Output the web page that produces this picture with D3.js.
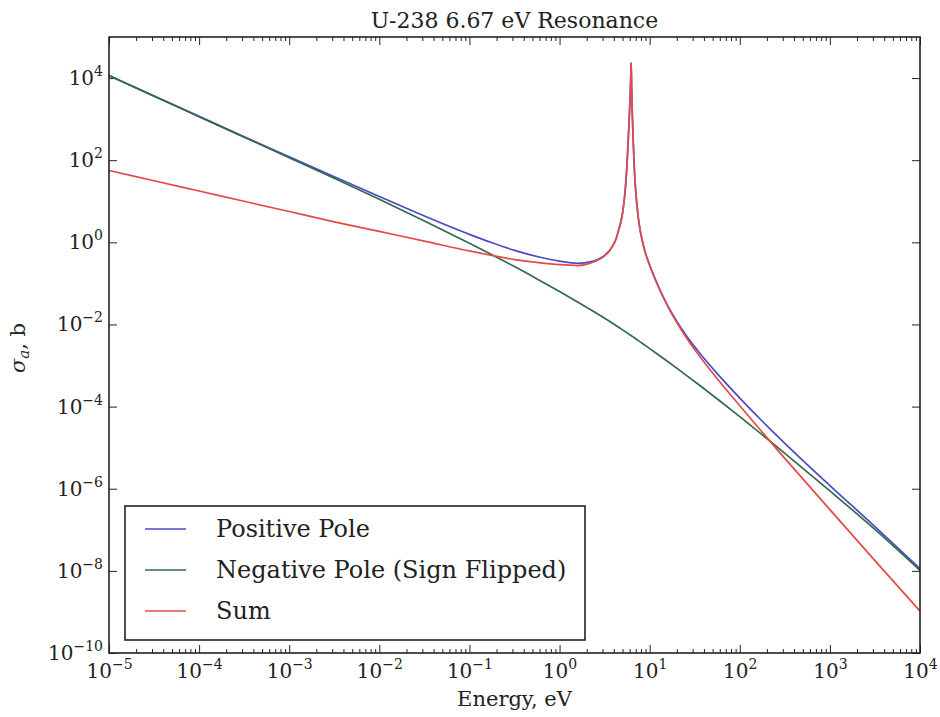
<!DOCTYPE html>
<html>
<head>
<meta charset="utf-8">
<script src="https://cdn.jsdelivr.net/npm/d3@7"></script>
<style>
  html, body { margin: 0; padding: 0; background: #fff; }
  svg { display: block; }
  text { font-family: "DejaVu Serif", "Liberation Serif", serif; fill: #222; }
</style>
</head>
<body>
<svg id="chart" width="940" height="717"></svg>
<script>
// ---- Data ----
const energy = [1e-5, 3.162e-5, 1e-4, 3.162e-4, 1e-3, 3.162e-3, 0.01, 0.03162, 0.1, 0.1778, 0.3162, 0.5623,
  1, 1.585, 2.239, 3.162, 3.548, 3.981, 4.266, 4.467, 4.732, 5.012, 5.370, 5.623, 5.888, 6.095, 6.166,
  6.237, 6.310, 6.383, 6.531, 6.761, 6.998, 7.244, 7.499, 7.762, 8.318, 8.913, 10, 12.59, 15.85, 19.95,
  25.12, 35.48, 60.26, 100, 204.2, 316.2, 1000, 3162, 1e4];

const positivePole = [11538, 3663, 1166, 373.1, 120.4, 39.47, 13.06, 4.383, 1.561, 0.9741, 0.6372, 0.4524,
  0.3482, 0.3076, 0.3388, 0.4819, 0.6147, 0.9016, 1.268, 1.787, 2.826, 5.255, 19.96, 89.14, 707.9, 4467, 10000,
  23440, 5623, 1995, 398.1, 63.10, 18.20, 7.590, 3.806, 2.243, 1.050, 0.5785, 0.2780, 0.08123, 0.02879, 0.01208,
  5.605e-3, 2.074e-3, 5.352e-4, 1.615e-4, 3.263e-5, 1.279e-5, 1.196e-6, 1.197e-7, 1.128e-8];

const negativePole = [11482, 3631, 1148, 363.1, 114.8, 36.31, 11.22, 3.311, 0.9441, 0.4955, 0.2570, 0.1288,
  0.06310, 0.03532, 0.02259, 0.01422, 0.01211, 0.01028, 9.311e-3, 8.710e-3, 8.017e-3, 7.379e-3, 6.668e-3,
  6.237e-3, 5.821e-3, 5.534e-3, 5.445e-3, 5.346e-3, 5.260e-3, 5.164e-3, 4.989e-3, 4.732e-3, 4.487e-3,
  4.256e-3, 4.036e-3, 3.828e-3, 3.443e-3, 3.090e-3, 2.588e-3, 1.803e-3, 1.250e-3, 8.630e-4, 5.929e-4,
  3.357e-4, 1.371e-4, 5.675e-5, 1.603e-5, 7.295e-6, 8.872e-7, 1.019e-7, 1.023e-8];

const sumValues = [56.23, 31.62, 17.78, 10.0, 5.623, 3.162, 1.841, 1.072, 0.6166, 0.4786, 0.3802, 0.3236,
  0.2851, 0.2723, 0.3162, 0.4677, 0.6026, 0.8913, 1.259, 1.778, 2.818, 5.248, 19.95, 89.13, 707.9, 4467, 10000,
  23440, 5623, 1995, 398.1, 63.10, 18.20, 7.586, 3.802, 2.239, 1.047, 0.5754, 0.2754, 0.07943, 0.02754, 0.01122,
  5.012e-3, 1.738e-3, 3.981e-4, 1.047e-4, 1.660e-5, 5.495e-6, 3.090e-7, 1.778e-8, 1.047e-9];

const seriesNames = ["Positive Pole", "Negative Pole (Sign Flipped)", "Sum"];
const seriesColors = ["#4a4acb", "#34694c", "#e54a4a"];

const xTickValues = [1e-5, 1e-4, 1e-3, 1e-2, 1e-1, 1, 10, 100, 1e3, 1e4];
const xTickExponents = ["−5", "−4", "−3", "−2", "−1", "0", "1", "2", "3", "4"];
const yTickValues = [1e-10, 1e-8, 1e-6, 1e-4, 1e-2, 1, 1e2, 1e4];
const yTickExponents = ["−10", "−8", "−6", "−4", "−2", "0", "2", "4"];

const titleText = "U-238 6.67 eV Resonance";
const xLabelText = "Energy, eV";

// ---- Layout ----
const L = 109, R = 920, T = 37, B = 653;
const svg = d3.select("#chart");

const x = d3.scaleLog().domain([1e-5, 1e4]).range([L, R]);
const y = d3.scaleLog().domain([1e-10, 1e5]).range([B, T]);

const axisColor = "#222";

// minor x ticks
const minorX = [];
for (let d = -5; d < 4; d++) for (let m = 2; m <= 9; m++) minorX.push(m * Math.pow(10, d));

function styleAxis(g) {
  g.select(".domain").remove();
  g.selectAll(".tick line").attr("stroke", axisColor).attr("stroke-width", 1);
}

// bottom axis
const gxB = svg.append("g").attr("transform", `translate(0,${B})`)
  .call(d3.axisBottom(x).tickValues(xTickValues).tickSizeInner(-8).tickSizeOuter(0).tickPadding(10).tickFormat(() => ""));
styleAxis(gxB);
gxB.selectAll(".tick text").each(function(d, i) {
  const t = d3.select(this).attr("font-size", 20).attr("dy", 0).attr("y", 25).text(null);
  t.append("tspan").text("10");
  t.append("tspan").attr("dy", -9).attr("font-size", 14).text(xTickExponents[i]);
});
const gxBm = svg.append("g").attr("transform", `translate(0,${B})`)
  .call(d3.axisBottom(x).tickValues(minorX).tickSizeInner(-4).tickSizeOuter(0).tickFormat(() => ""));
styleAxis(gxBm);

// top axis
const gxT = svg.append("g").attr("transform", `translate(0,${T})`)
  .call(d3.axisTop(x).tickValues(xTickValues).tickSizeInner(-8).tickSizeOuter(0).tickFormat(() => ""));
styleAxis(gxT);
const gxTm = svg.append("g").attr("transform", `translate(0,${T})`)
  .call(d3.axisTop(x).tickValues(minorX).tickSizeInner(-4).tickSizeOuter(0).tickFormat(() => ""));
styleAxis(gxTm);

// left axis
const gyL = svg.append("g").attr("transform", `translate(${L},0)`)
  .call(d3.axisLeft(y).tickValues(yTickValues).tickSizeInner(-8).tickSizeOuter(0).tickPadding(6).tickFormat(() => ""));
styleAxis(gyL);
gyL.selectAll(".tick text").each(function(d, i) {
  const t = d3.select(this).attr("font-size", 20).attr("dy", "0.32em").text(null);
  t.append("tspan").text("10");
  t.append("tspan").attr("dy", -9).attr("font-size", 14).text(yTickExponents[i]);
});

// right axis
const gyR = svg.append("g").attr("transform", `translate(${R},0)`)
  .call(d3.axisRight(y).tickValues(yTickValues).tickSizeInner(-8).tickSizeOuter(0).tickFormat(() => ""));
styleAxis(gyR);

// ---- Lines ----
const data = energy.map((e, i) => ({ e, pos: positivePole[i], neg: negativePole[i], sum: sumValues[i] }));
svg.append("clipPath").attr("id", "plotclip").append("rect")
  .attr("x", L).attr("y", T).attr("width", R - L).attr("height", B - T);

const keys = ["pos", "neg", "sum"];
const plot = svg.append("g").attr("clip-path", "url(#plotclip)");
keys.forEach((k, i) => {
  const line = d3.line().x(d => x(d.e)).y(d => y(d[k])).curve(d3.curveMonotoneX);
  plot.append("path").datum(data)
    .attr("fill", "none").attr("stroke", seriesColors[i]).attr("stroke-width", 1.7)
    .attr("stroke-linejoin", "round")
    .attr("d", line);
});

// ---- Frame ----
svg.append("rect").attr("x", L).attr("y", T).attr("width", R - L).attr("height", B - T)
  .attr("fill", "none").attr("stroke", axisColor).attr("stroke-width", 1.6);

// ---- Legend ----
const lg = svg.append("g");
lg.append("rect").attr("x", 125).attr("y", 506).attr("width", 460).attr("height", 134)
  .attr("fill", "#fff").attr("stroke", axisColor).attr("stroke-width", 1.6);
seriesNames.forEach((name, i) => {
  const yy = 529 + i * 41;
  lg.append("line").attr("x1", 145).attr("x2", 186).attr("y1", yy).attr("y2", yy)
    .attr("stroke", seriesColors[i]).attr("stroke-width", 1.6);
  lg.append("text").attr("x", 216).attr("y", yy).attr("dy", "0.35em")
    .attr("font-size", 24).text(name);
});

// ---- Titles ----
svg.append("text").attr("x", (L + R) / 2).attr("y", 28).attr("text-anchor", "middle")
  .attr("font-size", 22).text(titleText);
svg.append("text").attr("x", (L + R) / 2).attr("y", 706).attr("text-anchor", "middle")
  .attr("font-size", 21).text(xLabelText);
const yl = svg.append("text").attr("transform", "translate(25,348) rotate(-90)")
  .attr("text-anchor", "middle").attr("font-size", 21);
yl.append("tspan").attr("font-style", "italic").text("σ");
yl.append("tspan").attr("font-style", "italic").attr("font-size", 15).attr("dy", 4).text("a");
yl.append("tspan").attr("dy", -4).text(", b");
</script>
</body>
</html>
